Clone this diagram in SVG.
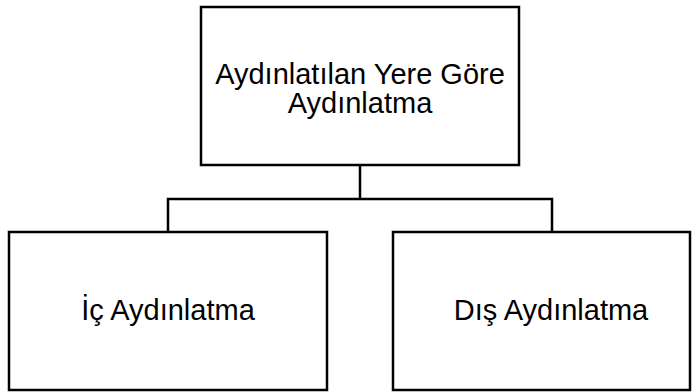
<svg xmlns="http://www.w3.org/2000/svg" width="699" height="392" viewBox="0 0 699 392">
  <style>
    .box { fill: #ffffff; stroke: #000000; stroke-width: 2.5; }
    .lbl { font-family: "Liberation Sans", Arial, sans-serif; font-size: 29px; fill: #000000; text-anchor: middle; }
    .link { fill: none; stroke: #000000; stroke-width: 2.5; }
  </style>
  <rect width="699" height="392" fill="#ffffff"/>
  <g id="connectors">
    <path class="link" d="M360 165 V199 M168 232 V199 H552 V232"/>
  </g>
  <g id="node-root">
    <rect class="box" x="201" y="7" width="318" height="158"/>
    <text class="lbl" x="360" y="84">Aydınlatılan Yere Göre</text>
    <text class="lbl" x="360" y="113">Aydınlatma</text>
  </g>
  <g id="node-ic">
    <rect class="box" x="9" y="232" width="318" height="158"/>
    <text class="lbl" x="168" y="320">İç Aydınlatma</text>
  </g>
  <g id="node-dis">
    <rect class="box" x="393" y="232" width="297" height="158"/>
    <text class="lbl" x="551" y="320">Dış Aydınlatma</text>
  </g>
</svg>
